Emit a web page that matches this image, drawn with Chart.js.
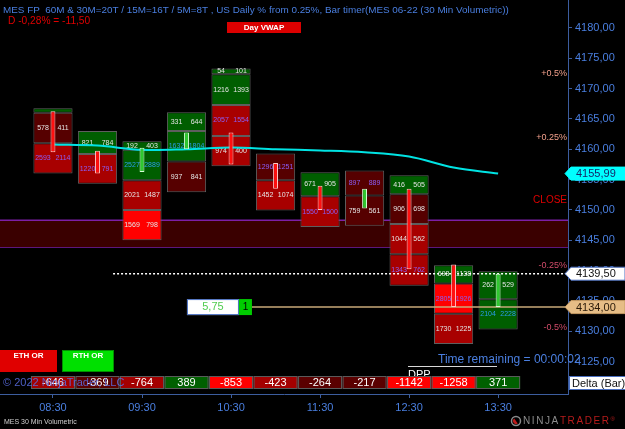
<!DOCTYPE html>
<html>
<head>
<meta charset="utf-8">
<script src="https://cdn.jsdelivr.net/npm/chart.js@4.4.0/dist/chart.umd.min.js"></script>
<style>
  html, body { margin: 0; padding: 0; background: #000; }
  canvas { display: block; }
</style>
</head>
<body>
<canvas id="chart" width="625" height="429"></canvas>
<script>
const FONT = '"Liberation Sans", Arial, sans-serif';

// 30 min volumetric bars
const barTimes = ['08:30', '09:00', '09:30', '10:00', '10:30', '11:00', '11:30', '12:00', '12:30', '13:00', '13:30'];
const barOpen = [4166.25, 4159.75, 4156.25, 4160.0, 4162.75, 4157.75, 4154.0, 4150.25, 4153.5, 4141.0, 4134.0];
const barClose = [4159.5, 4156.0, 4160.25, 4162.75, 4157.5, 4153.5, 4150.0, 4153.5, 4140.25, 4134.0, 4139.5];
const barDelta = [-646, -369, -764, 389, -853, -423, -264, -217, -1142, -1258, 371];
const vwap = [4160.8, 4160.6, 4159.9, 4160.0, 4160.3, 4160.0, 4159.8, 4159.5, 4158.8, 4157.0, 4155.99];

// footprint rows, bottom to top (price edges, bid x ask, shade, imbalance)
const rowEdges = [
  [4156.0, 4161.0, 4166.0, 4166.75],
  [4154.3, 4159.2, 4163.0],
  [4145.0, 4150.0, 4154.9, 4159.9, 4161.3],
  [4152.9, 4158.0, 4163.0, 4166.1],
  [4157.2, 4162.2, 4167.3, 4172.35, 4173.3],
  [4149.9, 4154.9, 4159.3],
  [4147.2, 4152.25, 4156.2],
  [4147.4, 4152.4, 4156.5],
  [4137.5, 4142.7, 4147.7, 4152.6, 4155.7],
  [4127.9, 4132.9, 4137.9, 4140.9],
  [4130.3, 4135.3, 4139.9]
];
const rowBid = [
  [2593, 578, null], [1220, 821], [1569, 2021, 2527, 192], [937, 1632, 331],
  [974, 2057, 1216, 54], [1452, 1296], [1550, 671], [759, 897],
  [1343, 1044, 906, 416], [1730, 2805, 698], [2104, 262]
];
const rowAsk = [
  [2114, 411, null], [791, 784], [798, 1487, 2889, 403], [841, 1804, 644],
  [400, 1554, 1393, 101], [1074, 1251], [1500, 905], [561, 889],
  [762, 562, 698, 505], [1225, 1926, 1138], [2228, 529]
];
const rowShade = [
  ['R', 'D', 'G'], ['R', 'G'], ['B', 'R', 'G', 'G'], ['D', 'G', 'G'],
  ['R', 'R', 'G', 'G'], ['R', 'D'], ['R', 'G'], ['D', 'D'],
  ['R', 'R', 'D', 'G'], ['R', 'B', 'G'], ['G', 'G']
];
const rowImbalance = [
  [-1, 0, 0], [-1, 0], [0, 0, 1, 0], [0, 1, 0],
  [0, -1, 0, 0], [0, -1], [-1, 0], [0, -1],
  [-1, 0, 0, 0], [0, -1, 0], [1, 0]
];

// levels
const pctLabels = ['+0.5%', '+0.25%', 'CLOSE', '-0.25%', '-0.5%'];
const pctPrices = [4172.5, 4162.0, 4151.6, 4140.9, 4130.7];
const orBand = [4143.9, 4148.3];
const lastPrice = 4139.5;
const entryPrice = 4134.0;
const entryPnl = '5,75';
const entryQty = '1';

const X_MIN = -1.19, X_MAX = 11.57;
const Y_MIN = 4119.68, Y_MAX = 4184.59;

const shadeColors = { G: '#005e00', D: '#560000', R: '#a80000', B: '#ff0000' };
const imbColors = { '-1': '#8a5cf5', '0': '#e4e4e4', '1': '#2a9ce8' };
const axisBlue = '#3c5d9e';
const labelBlue = '#4a7fe0';

const cellSets = [];
const maxRows = Math.max(...rowEdges.map(e => e.length - 1));
for (let r = 0; r < maxRows; r++) {
  const data = [];
  rowEdges.forEach((edges, i) => {
    if (r < edges.length - 1) data.push({ x: i, y: [edges[r], edges[r + 1]], shade: rowShade[i][r] });
  });
  cellSets.push({
    type: 'bar', data, grouped: false, barPercentage: 0.88, categoryPercentage: 1,
    backgroundColor: c => c.raw ? shadeColors[c.raw.shade] : '#000',
    borderColor: '#5e5e5e', borderWidth: 1, borderSkipped: false, order: 3
  });
}

function flatLine(y, x0, color, extra) {
  return Object.assign({
    type: 'line', data: [{ x: x0, y }, { x: X_MAX, y }],
    borderColor: color, borderWidth: 1.5, pointRadius: 0, order: 2
  }, extra);
}

const datasets = [
  flatLine(orBand[1], X_MIN, '#7d1fa6', { fill: '+1', backgroundColor: '#3a0000', order: 10 }),
  flatLine(orBand[0], X_MIN, '#7d1fa6', { order: 10 }),
  ...cellSets,
  flatLine(lastPrice, 1.35, '#ffffff', { borderDash: [2, 2] }),
  flatLine(entryPrice, 4.47, '#c9a978'),
  {
    type: 'line', data: vwap.map((v, i) => ({ x: i, y: v })),
    borderColor: '#00e3e3', borderWidth: 2, pointRadius: 0, tension: 0.35, order: 1
  },
  {
    type: 'bar', data: barOpen.map((o, i) => ({ x: i, y: [o, barClose[i]] })),
    grouped: false, barPercentage: 0.11, categoryPercentage: 1,
    backgroundColor: c => c.raw && c.raw.y[1] >= c.raw.y[0] ? '#30c830' : '#ff1010',
    borderColor: c => c.raw && c.raw.y[1] >= c.raw.y[0] ? '#d6ffd6' : '#ffc6c6',
    borderWidth: 1, borderSkipped: false, order: 0
  }
];
const firstCellIndex = 2;

function txt(ctx, s, x, y, color, font, align) {
  ctx.fillStyle = color;
  ctx.font = font;
  ctx.textAlign = align || 'left';
  ctx.textBaseline = 'middle';
  ctx.fillText(s, x, y);
}

function marker(ctx, y, fill, stroke, label, color) {
  ctx.beginPath();
  ctx.moveTo(565, y);
  ctx.lineTo(571, y - 6.5);
  ctx.lineTo(625, y - 6.5);
  ctx.lineTo(625, y + 6.5);
  ctx.lineTo(571, y + 6.5);
  ctx.closePath();
  ctx.fillStyle = fill;
  ctx.fill();
  ctx.strokeStyle = stroke;
  ctx.lineWidth = 1;
  ctx.stroke();
  txt(ctx, label, 576, y + 0.5, color, '11px ' + FONT);
}

const overlay = {
  id: 'overlay',
  beforeDraw(chart) {
    const ctx = chart.ctx;
    ctx.fillStyle = '#000';
    ctx.fillRect(0, 0, chart.width, chart.height);
  },
  afterDatasetDraw(chart, args) {
    if (args.index !== firstCellIndex) return;
    const ctx = chart.ctx, xs = chart.scales.x, ys = chart.scales.y;
    rowEdges.forEach((edges, i) => {
      const cx = xs.getPixelForValue(i);
      for (let r = 0; r < edges.length - 1; r++) {
        if (rowBid[i][r] == null) continue;
        const cy = (ys.getPixelForValue(edges[r]) + ys.getPixelForValue(edges[r + 1])) / 2;
        const col = imbColors[String(rowImbalance[i][r])];
        txt(ctx, String(rowBid[i][r]), cx - 10, cy, col, '7px ' + FONT, 'center');
        txt(ctx, String(rowAsk[i][r]), cx + 10, cy, col, '7px ' + FONT, 'center');
      }
    });
  },
  afterDraw(chart) {
    const ctx = chart.ctx, xs = chart.scales.x, ys = chart.scales.y;
    const area = chart.chartArea;
    ctx.save();

    // header
    txt(ctx, 'MES FP  60M & 30M=20T / 15M=16T / 5M=8T , US Daily % from 0.25%, Bar timer(MES 06-22 (30 Min Volumetric))',
      3, 10, labelBlue, '9.9px ' + FONT);
    txt(ctx, 'D -0,28% = -11,50', 8, 21, '#e00000', '10.2px ' + FONT);
    ctx.fillStyle = '#dc0000';
    ctx.fillRect(227, 22, 74, 11);
    txt(ctx, 'Day VWAP', 264, 27.5, '#ffffff', 'bold 8px ' + FONT, 'center');

    // percent levels
    pctLabels.forEach((s, k) => {
      const col = s === 'CLOSE' ? '#e00000' : (s[0] === '+' ? '#f2a08c' : '#d24c6a');
      txt(ctx, s, area.right - 1, ys.getPixelForValue(pctPrices[k]), col,
        (s === 'CLOSE' ? '10px ' : '9px ') + FONT, 'right');
    });

    // position box on the entry line
    const ey = ys.getPixelForValue(entryPrice);
    const ex = xs.getPixelForValue(4.47);
    ctx.fillStyle = '#ffffff';
    ctx.fillRect(ex - 65, ey - 8, 52, 16);
    ctx.strokeStyle = '#4a6fc0';
    ctx.strokeRect(ex - 64.5, ey - 7.5, 51, 15);
    txt(ctx, entryPnl, ex - 39, ey, '#50cc50', '11px ' + FONT, 'center');
    ctx.fillStyle = '#00cc00';
    ctx.fillRect(ex - 13, ey - 8, 13, 16);
    txt(ctx, entryQty, ex - 6.5, ey, '#000', '10px ' + FONT, 'center');

    // opening range tags
    ctx.fillStyle = '#e00000';
    ctx.fillRect(0, 350, 57, 22);
    txt(ctx, 'ETH OR', 28.5, 355.5, '#fff', 'bold 8px ' + FONT, 'center');
    ctx.fillStyle = '#00e000';
    ctx.fillRect(62, 350, 52, 22);
    ctx.strokeStyle = '#009000';
    ctx.strokeRect(62.5, 350.5, 51, 21);
    txt(ctx, 'RTH OR', 88, 355.5, '#fff', 'bold 8px ' + FONT, 'center');

    // bar timer
    txt(ctx, 'Time remaining = 00:00:02', 438, 359.5, labelBlue, '12px ' + FONT);
    ctx.strokeStyle = '#d8d8d8';
    ctx.lineWidth = 1;
    ctx.beginPath();
    ctx.moveTo(408, 366.5);
    ctx.lineTo(497, 366.5);
    ctx.stroke();
    txt(ctx, 'DPP', 408, 375, '#ffffff', '11px ' + FONT);

    // delta panel
    barDelta.forEach((d, i) => {
      const cx = xs.getPixelForValue(i);
      const ad = Math.abs(d);
      ctx.fillStyle = d > 0 ? '#006000' : (ad > 800 ? '#ff0000' : (ad > 400 ? '#a40000' : '#5a0000'));
      ctx.fillRect(cx - 22, 376, 44, 13);
      ctx.strokeStyle = '#5a5a5a';
      ctx.strokeRect(cx - 21.5, 376.5, 43, 12);
      txt(ctx, String(d), cx, 383, '#ffffff', '11px ' + FONT, 'center');
    });
    ctx.globalAlpha = 0.85;
    txt(ctx, '\u00a9 2022 NinjaTrader, LLC', 3, 383, '#5a6ee6', '11px ' + FONT);
    ctx.globalAlpha = 1;

    // axis markers
    marker(ctx, ys.getPixelForValue(vwap[vwap.length - 1]), '#00ffff', '#00ffff',
      vwap[vwap.length - 1].toFixed(2).replace('.', ','), '#14286a');
    marker(ctx, ys.getPixelForValue(lastPrice), '#ffffff', '#4a6fc0',
      lastPrice.toFixed(2).replace('.', ','), '#111');
    marker(ctx, ys.getPixelForValue(entryPrice), '#e6bd86', '#c49a62',
      entryPrice.toFixed(2).replace('.', ','), '#2a1a08');

    ctx.fillStyle = '#ffffff';
    ctx.fillRect(569, 376, 56, 14);
    ctx.strokeStyle = '#4a6fc0';
    ctx.strokeRect(569.5, 376.5, 56, 13);
    txt(ctx, 'Delta (Bar)', 572, 383.5, '#111', '11px ' + FONT);

    // footer
    txt(ctx, 'MES 30 Min Volumetric', 4, 422.5, '#d0d0d0', '7px ' + FONT);
    ctx.strokeStyle = '#8a8a8a';
    ctx.lineWidth = 1.5;
    ctx.beginPath();
    ctx.arc(516, 421, 4.5, 0, Math.PI * 2);
    ctx.stroke();
    ctx.fillStyle = '#c01a1a';
    ctx.beginPath();
    ctx.arc(516, 421, 3, Math.PI * 0.3, Math.PI * 1.3);
    ctx.fill();
    let lx = 523;
    ctx.font = '10px ' + FONT;
    ctx.textAlign = 'left';
    'NINJATRADER'.split('').forEach((ch, k) => {
      ctx.fillStyle = k < 5 ? '#8c8c8c' : '#b81c1c';
      ctx.fillText(ch, lx, 421.5);
      lx += ctx.measureText(ch).width + 1.6;
    });
    txt(ctx, '\u00ae', lx, 419, '#b81c1c', '6px ' + FONT);

    ctx.restore();
  }
};

new Chart(document.getElementById('chart'), {
  type: 'bar',
  data: { datasets },
  options: {
    responsive: false,
    animation: false,
    events: [],
    layout: { padding: 0 },
    plugins: { legend: { display: false }, tooltip: { enabled: false } },
    scales: {
      x: {
        type: 'linear', min: X_MIN, max: X_MAX, offset: false,
        afterBuildTicks: s => { s.ticks = barTimes.map((t, i) => ({ value: i })).filter(t => t.value % 2 === 0); },
        ticks: {
          callback: v => barTimes[v] || '', color: labelBlue, font: { size: 11, family: FONT },
          maxRotation: 0, autoSkip: false, padding: 3
        },
        grid: { offset: false, drawOnChartArea: false, color: axisBlue, tickLength: 4 },
        border: { color: axisBlue },
        afterFit: s => { s.height = 35; s.paddingLeft = 0; s.paddingRight = 0; }
      },
      y: {
        type: 'linear', position: 'right', min: Y_MIN, max: Y_MAX,
        afterBuildTicks: s => { s.ticks = s.ticks.filter(t => t.value >= 4125 && t.value <= 4180); },
        ticks: {
          stepSize: 5, includeBounds: false, color: labelBlue, font: { size: 11, family: FONT }, padding: 3,
          callback: v => v.toFixed(2).replace('.', ',')
        },
        grid: { drawOnChartArea: false, color: axisBlue, tickLength: 4 },
        border: { color: axisBlue },
        afterFit: s => { s.width = 57; s.paddingTop = 0; s.paddingBottom = 0; }
      }
    }
  },
  plugins: [overlay]
});
</script>
</body>
</html>
